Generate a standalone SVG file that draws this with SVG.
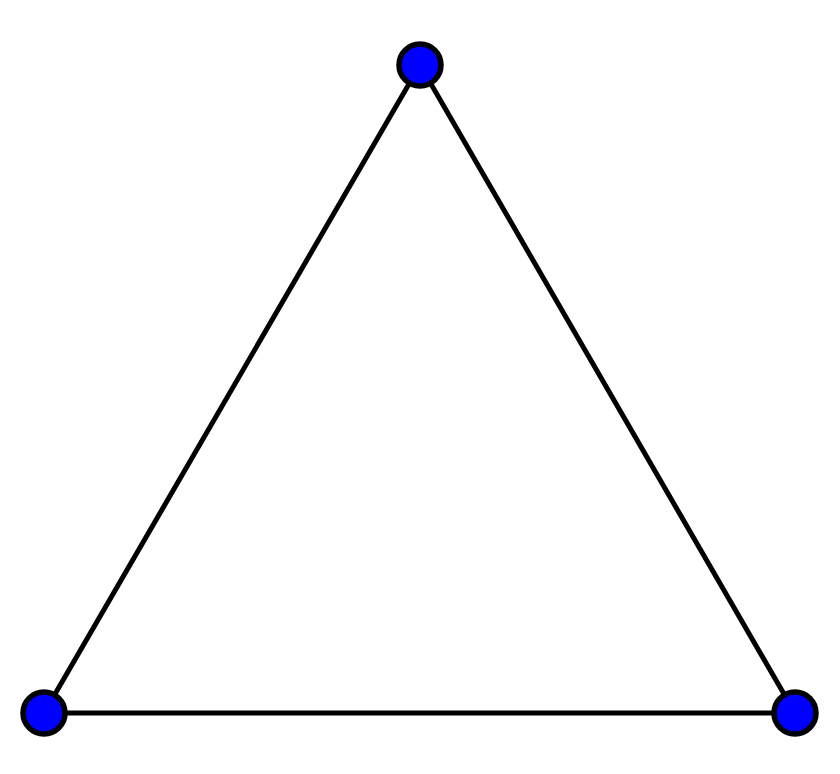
<svg xmlns="http://www.w3.org/2000/svg" width="840" height="774" viewBox="0 0 840 774">
<style>
.edge{stroke:#000;stroke-width:5;fill:none;stroke-linecap:round}
.node{fill:#0000ff;stroke:#000;stroke-width:5.5}
</style>
<rect width="840" height="774" fill="#fff"/>
<g id="connectors">
<line class="edge" x1="420" y1="65" x2="44" y2="713"/>
<line class="edge" x1="420" y1="65" x2="795" y2="713"/>
<line class="edge" x1="44" y1="713" x2="795" y2="713"/>
</g>
<g id="node-top"><circle class="node" cx="420" cy="65" r="21"/></g>
<g id="node-left"><circle class="node" cx="44" cy="713" r="21"/></g>
<g id="node-right"><circle class="node" cx="795" cy="713" r="21"/></g>
</svg>
